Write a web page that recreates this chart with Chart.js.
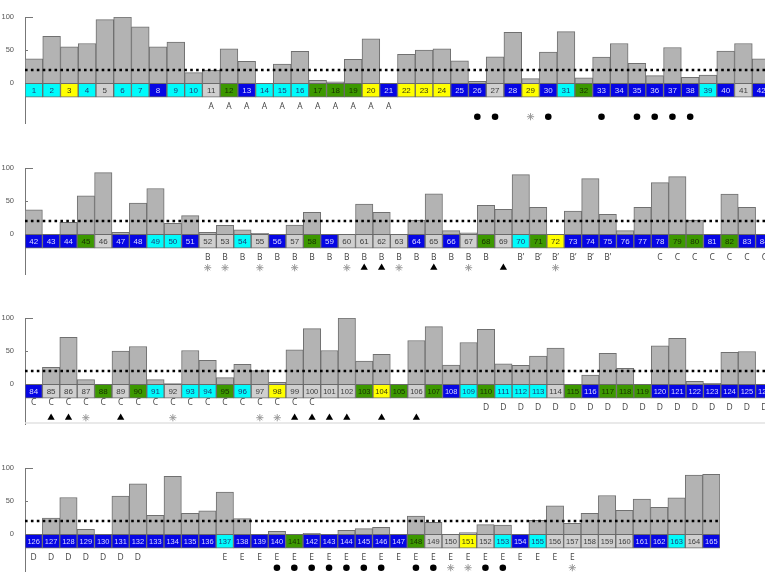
<!DOCTYPE html>
<html>
<head>
<meta charset="utf-8">
<script src="https://cdn.jsdelivr.net/npm/chart.js@4.4.1/dist/chart.umd.min.js"></script>
<style>
  html, body { margin: 0; padding: 0; background: #fff; }
  #page { position: relative; width: 765px; height: 572px; overflow: hidden; }
  .panel { position: absolute; left: 0; }
</style>
</head>
<body>
<div id="page"></div>
<script>
// Valeurs des barres, items 1 à 165
const values = [
  37, 71, 55, 60, 96, 100, 85, 55, 62, 16,          // 1-10
  20, 52, 33, 0, 29, 48, 4.5, 2, 36, 67,            // 11-20
  0, 43.5, 50, 52, 34, 3, 40, 77, 7, 47,            // 21-30
  78, 8, 39.5, 60, 30, 11.5, 54, 9, 12.5, 48.5,     // 31-40
  60, 37, 0, 18, 58, 93, 3, 47, 69, 16.5,           // 41-50
  28, 3, 13.5, 6.5, 1.5, 0, 14, 33, 0, 0,           // 51-60
  45.5, 33, 0, 21.5, 61, 5.5, 2, 43.5, 37.5, 90,    // 61-70
  40.5, 0, 35, 84, 30, 5.5, 40.5, 78, 87, 21.5,     // 71-80
  0, 60.5, 40.5, 0, 25.5, 71, 7, 0, 50, 57,         // 81-90
  7, 1, 51, 36, 10, 30, 20.5, 3, 52, 84,            // 91-100
  51, 100, 35, 45, 0, 66, 87, 29, 63, 83,           // 101-110
  31, 28.5, 42.5, 54.5, 0, 14, 46.5, 24, 0, 58,     // 111-120
  69.5, 4.5, 1.5, 48, 49.5, 0, 24.5, 55.5, 7.5, 0,  // 121-130
  57.5, 76, 28.5, 87.5, 31.5, 35.5, 63.5, 23.5, 0, 4.5, // 131-140
  0, 1.5, 0, 6, 8.5, 10.5, 0, 27.5, 18, 0,          // 141-150
  2.5, 14.5, 14, 0, 21, 43, 16.5, 31.5, 58.5, 36,   // 151-160
  53, 40.5, 55, 89.5, 90.5                          // 161-165
];

// Couleur de la case numérotée : b bleu, c cyan, y jaune, g vert, l gris clair
const cellColors = [
  'c','c','y','c','l','c','c','b','c','c',
  'l','g','b','c','c','c','g','g','g','y',
  'b','y','y','y','b','b','l','b','y','b',
  'c','g','b','b','b','b','b','b','c','b',
  'l','b','b','b','g','l','b','b','c','c',
  'b','l','l','c','l','b','l','g','b','l',
  'l','l','l','b','l','b','l','g','l','c',
  'g','y','b','b','b','b','b','b','g','g',
  'b','g','b','b','l','l','l','g','l','g',
  'c','l','c','c','g','c','l','y','l','l',
  'l','l','g','y','g','l','g','b','c','g',
  'c','c','c','l','g','b','g','g','g','b',
  'b','b','b','b','b','b','b','b','b','b',
  'b','b','b','b','b','b','c','b','b','b',
  'g','b','b','b','b','b','b','g','l','l',
  'y','l','c','b','c','l','l','l','l','l',
  'b','b','c','l','b'
];

// Groupes de lettres sous les cases : [lettre, premier item, dernier item]
const letterGroups = [
  ['A', 11, 21], ['B', 52, 68], ['B\u2019', 70, 75],
  ['C', 78, 100], ['D', 110, 132], ['E', 137, 157]
];

// Symboles sous les lettres
const dotItems = [26, 27, 30, 33, 35, 36, 37, 38, 140, 141, 142, 143, 144, 145, 146, 148, 149, 152, 153];
const starItems = [29, 52, 53, 55, 57, 60, 63, 67, 72, 87, 92, 97, 98, 150, 151, 157];
const triangleItems = [61, 62, 65, 69, 85, 86, 89, 99, 100, 101, 102, 104, 106];

// Découpage en quatre bandes
const panelRanges = [[1, 42], [42, 84], [84, 126], [126, 165]];
const yTicks = [0, 50, 100];
const threshold = 20;

// Mise en page
const PANEL_TOPS = [0, 151, 301, 451];
const SLOT_W = [17.86, 17.5, 17.5, 17.5];
const AXIS_W = 25;
const CELL_BOTTOM = -21;
const LETTER_Y = -35.5;
const LETTER_Y_HIGH = -27.5;
const SYMBOL_Y = -50.5;

const palette = {
  b: { fill: '#0606e4', text: '#dadaff' },
  c: { fill: '#00fbfb', text: '#1d3c78' },
  y: { fill: '#ffff00', text: '#3a3a10' },
  g: { fill: '#3c9800', text: '#173000' },
  l: { fill: '#cfcfcf', text: '#3c3c3c' }
};

function letterFor(item) {
  const g = letterGroups.find(([, a, b]) => item >= a && item <= b);
  return g ? g[0] : '';
}

const panelDecor = {
  id: 'panelDecor',
  beforeDatasetsDraw(chart, args, opts) {
    const { ctx, chartArea, scales: { y } } = chart;
    ctx.save();
    ctx.strokeStyle = '#777';
    ctx.lineWidth = 1;
    ctx.beginPath();
    const y100 = Math.round(y.getPixelForValue(100)) + 0.5;
    ctx.moveTo(chartArea.left, y100);
    ctx.lineTo(chartArea.left + 8, y100);
    const y50 = Math.round(y.getPixelForValue(50)) + 0.5;
    ctx.moveTo(chartArea.left, y50);
    ctx.lineTo(chartArea.left + 3, y50);
    ctx.stroke();
    if (opts.bottomRule) {
      ctx.strokeStyle = '#e2e2e2';
      ctx.lineWidth = 1.5;
      ctx.beginPath();
      ctx.moveTo(chartArea.left, chartArea.bottom - 1);
      ctx.lineTo(chart.width, chartArea.bottom - 1);
      ctx.stroke();
    }
    ctx.restore();
  },
  afterDatasetsDraw(chart, args, opts) {
    const { ctx, scales: { x, y } } = chart;
    const items = chart.data.labels;
    ctx.save();
    ctx.textAlign = 'center';
    ctx.textBaseline = 'middle';
    items.forEach((label, i) => {
      const item = Number(label);
      const px = x.getPixelForValue(i);
      ctx.font = '8px "Liberation Sans", Arial, sans-serif';
      ctx.fillStyle = palette[cellColors[item - 1]].text;
      ctx.fillText(label, px, y.getPixelForValue(CELL_BOTTOM / 2) + 0.5, 12.5);
      const letter = letterFor(item);
      if (letter) {
        const ly = (opts.raisedC && letter === 'C') ? LETTER_Y_HIGH : LETTER_Y;
        ctx.font = '8.5px "Open Sans", sans-serif';
        ctx.fillStyle = '#444';
        ctx.fillText(letter, px, y.getPixelForValue(ly));
      }
    });
    ctx.restore();
  }
};

const page = document.getElementById('page');

panelRanges.forEach(([first, last], p) => {
  const labels = [];
  for (let i = first; i <= last; i++) labels.push(String(i));
  const n = labels.length;
  const items = labels.map(Number);

  const div = document.createElement('div');
  div.className = 'panel';
  div.style.top = PANEL_TOPS[p] + 'px';
  const canvas = document.createElement('canvas');
  canvas.width = Math.round(AXIS_W + n * SLOT_W[p]);
  canvas.height = 150;
  canvas.style.width = canvas.width + 'px';
  canvas.style.height = '150px';
  div.appendChild(canvas);
  page.appendChild(div);

  const symbolPoints = list => list
    .filter(it => it >= first && it <= last)
    .map(it => ({ x: String(it), y: SYMBOL_Y }));

  new Chart(canvas.getContext('2d'), {
    type: 'bar',
    data: {
      labels: labels,
      datasets: [
        {
          type: 'line',
          xAxisID: 'xl',
          data: [{ x: -0.5, y: threshold }, { x: n - 0.5, y: threshold }],
          borderColor: '#000',
          borderWidth: 2.6,
          borderDash: [2.6, 3.3],
          borderCapStyle: 'butt',
          pointRadius: 0,
          order: 0
        },
        {
          type: 'scatter',
          data: symbolPoints(dotItems),
          pointStyle: 'circle',
          pointRadius: 3.3,
          backgroundColor: '#000',
          borderWidth: 0,
          order: 0
        },
        {
          type: 'scatter',
          data: symbolPoints(triangleItems),
          pointStyle: 'triangle',
          pointRadius: 4.2,
          backgroundColor: '#000',
          borderWidth: 0,
          order: 0
        },
        {
          type: 'scatter',
          data: symbolPoints(starItems),
          pointStyle: 'star',
          pointRadius: 3.6,
          backgroundColor: 'rgba(0,0,0,0)',
          borderColor: '#9a9a9a',
          borderWidth: 1,
          order: 0
        },
        {
          data: items.map(() => [CELL_BOTTOM, 0]),
          backgroundColor: items.map(it => palette[cellColors[it - 1]].fill),
          borderColor: '#6a6a6a',
          borderWidth: 1,
          borderSkipped: false,
          barPercentage: 1,
          categoryPercentage: 1,
          grouped: false,
          order: 1
        },
        {
          data: items.map(it => values[it - 1]),
          backgroundColor: '#b3b3b3',
          borderColor: '#707070',
          borderWidth: 1,
          barPercentage: 1,
          categoryPercentage: 1,
          grouped: false,
          order: 2
        }
      ]
    },
    options: {
      responsive: false,
      animation: false,
      events: [],
      layout: { padding: { top: 17, bottom: 27, left: 0, right: 0 } },
      plugins: {
        legend: { display: false },
        tooltip: { enabled: false },
        panelDecor: { bottomRule: p === 2, raisedC: p === 2 }
      },
      scales: {
        x: {
          type: 'category',
          display: false,
          offset: true,
          grid: { display: false }
        },
        xl: {
          type: 'linear',
          display: false,
          offset: false,
          grid: { offset: false },
          min: -0.5,
          max: n - 0.5
        },
        y: {
          min: -60,
          max: 100,
          afterBuildTicks: s => { s.ticks = yTicks.map(v => ({ value: v })); },
          afterFit: s => { s.width = AXIS_W; },
          grid: { display: false },
          border: { display: true, color: '#777', width: 1 },
          ticks: {
            color: '#555',
            padding: 3,
            font: { size: 7.5, family: '"Liberation Sans", Arial, sans-serif' }
          }
        }
      }
    },
    plugins: [panelDecor]
  });
});
</script>
</body>
</html>
